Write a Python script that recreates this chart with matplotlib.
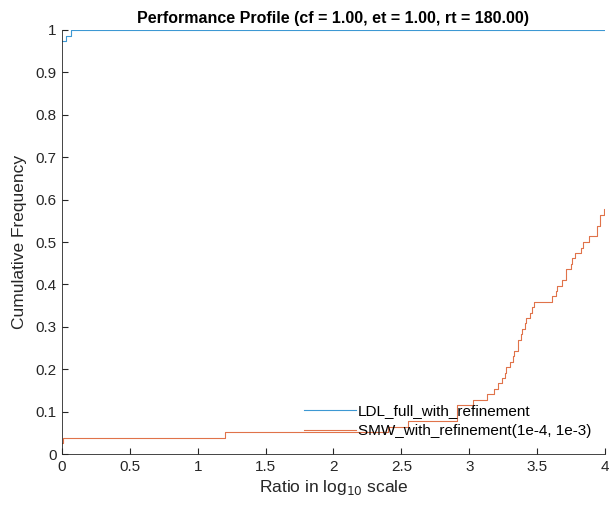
import matplotlib
matplotlib.use('Agg')
import matplotlib.pyplot as plt

# step curves of the performance profile (x = log10 ratio, y = fraction)
ldl_x = [0.0, 0.03, 0.07, 4.0]
ldl_y = [0.974, 0.987, 1.0, 1.0]

smw_x = [0.0, 0.01, 1.2, 2.4, 2.55, 2.91, 3.03, 3.13, 3.18, 3.21, 3.24, 3.26,
         3.27, 3.30, 3.32, 3.33, 3.36, 3.38, 3.39, 3.41, 3.42, 3.45, 3.46,
         3.48, 3.61, 3.64, 3.65, 3.68, 3.71, 3.75, 3.76, 3.78, 3.82, 3.84,
         3.88, 3.94, 3.96, 3.99, 4.0]
smw_y = [0.026, 0.038, 0.051, 0.064, 0.077, 0.115, 0.128, 0.141, 0.154, 0.167,
         0.180, 0.192, 0.205, 0.218, 0.231, 0.244, 0.269, 0.282, 0.295, 0.308,
         0.321, 0.333, 0.346, 0.359, 0.372, 0.385, 0.397, 0.410, 0.436, 0.449,
         0.462, 0.474, 0.487, 0.500, 0.513, 0.538, 0.564, 0.577, 0.577]

labels = ['LDL_full_with_refinement', 'SMW_with_refinement(1e-4, 1e-3)']
xticks = [0, 0.5, 1, 1.5, 2, 2.5, 3, 3.5, 4]
xticklabels = ['0', '0.5', '1', '1.5', '2', '2.5', '3', '3.5', '4']
yticks = [0, 0.1, 0.2, 0.3, 0.4, 0.5, 0.6, 0.7, 0.8, 0.9, 1]
yticklabels = ['0', '0.1', '0.2', '0.3', '0.4', '0.5', '0.6', '0.7', '0.8', '0.9', '1']

plt.rcParams['font.family'] = ['Liberation Sans', 'DejaVu Sans']

fig = plt.figure(figsize=(6.1, 5.11), dpi=100)
ax = fig.add_axes([0.1016, 0.1115, 0.8902, 0.8298])

ax.plot(ldl_x, ldl_y, drawstyle='steps-post', color='#3d98d3', lw=0.8, label=labels[0])
ax.plot(smw_x, smw_y, drawstyle='steps-post', color='#e0734a', lw=0.8, label=labels[1])

ax.set_xlim(0, 4)
ax.set_ylim(0, 1)
ax.set_xticks(xticks)
ax.set_xticklabels(xticklabels)
ax.set_yticks(yticks)
ax.set_yticklabels(yticklabels)
ax.tick_params(direction='in', length=4, labelsize=11, colors='#262626', pad=4)
for s in ['top', 'right']:
    ax.spines[s].set_visible(False)
for s in ['left', 'bottom']:
    ax.spines[s].set_color('#262626')
    ax.spines[s].set_linewidth(0.6)

ax.set_title('Performance Profile (cf = 1.00, et = 1.00, rt = 180.00)',
             fontsize=11.5, fontweight='bold', pad=5)
ax.set_xlabel('Ratio in log$_{10}$ scale', fontsize=12.5, color='#262626', labelpad=3)
ax.set_ylabel('Cumulative Frequency', fontsize=12.5, color='#262626', labelpad=6)

ax.legend(loc='lower right', bbox_to_anchor=(1.0, 0.005), frameon=False,
          fontsize=11, handlelength=3.4, handletextpad=0.15, labelspacing=0.4)

fig.savefig('out.png', dpi=100)
